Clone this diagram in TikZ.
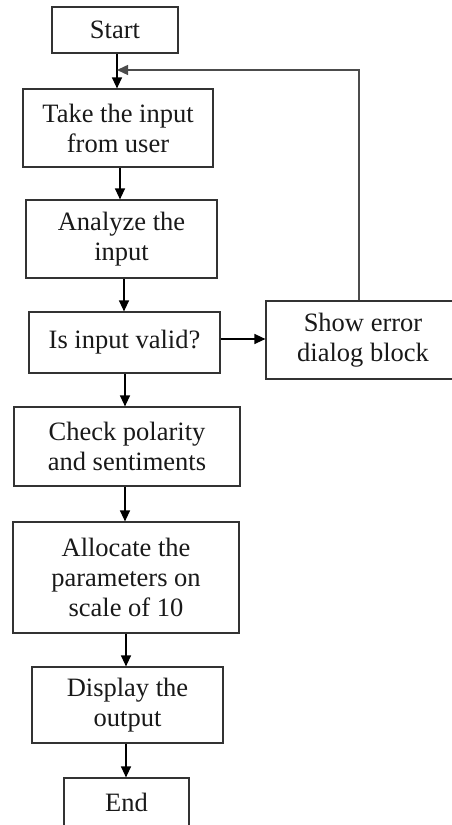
\documentclass[tikz,border=0pt]{standalone}
\usepackage{fontspec}
\setmainfont{Liberation Serif}
\usetikzlibrary{arrows.meta}
\tikzset{
  x=1pt, y=1pt,
  box/.style={draw=black!80, line width=1.2pt, align=center, inner sep=0pt,
    font=\fontsize{26.5}{30}\selectfont, text=black!90},
  arr/.style={line width=1.4pt, -{Triangle[length=11pt,width=10pt]}},
  fb/.style={draw=black!70, line width=1.4pt, -{Triangle[length=11pt,width=10pt]}}
}
\begin{document}
\begin{tikzpicture}
\useasboundingbox (0,0) rectangle (452,825);
\clip (0,0) rectangle (452,825);
% y_tikz = 825 - y_px
\node[box, minimum width=126, minimum height=46] (start) at (115,795) {Start};
\node[box, minimum width=190, minimum height=78] (take) at (118,697) {Take the input\\from user};
\node[box, minimum width=191, minimum height=78] (analyze) at (121.5,586) {Analyze the\\input};
\node[box, minimum width=191, minimum height=61] (valid) at (124.5,482.5) {Is input valid?};
\node[box, minimum width=194, minimum height=78] (show) at (363,485) {Show error\\dialog block};
\node[box, minimum width=226, minimum height=79] (check) at (127,378.5) {Check polarity\\and sentiments};
\node[box, minimum width=226, minimum height=111] (alloc) at (126,247.5) {Allocate the\\parameters on\\scale of 10};
\node[box, minimum width=191, minimum height=76] (disp) at (127.5,120) {Display the\\output};
\node[box, minimum width=125, minimum height=48] (end) at (126.5,23) {End};
\coordinate (j) at (117,755);
\draw[arr] (start.south -| j) -- (take.north -| j);
\draw[arr] (take.south -| 120,0) -- (analyze.north -| 120,0);
\draw[arr] (analyze.south -| 124,0) -- (valid.north -| 124,0);
\draw[arr] (valid.east |- 0,486) -- (show.west |- 0,486);
\draw[arr] (valid.south -| 125,0) -- (check.north -| 125,0);
\draw[arr] (check.south -| 125,0) -- (alloc.north -| 125,0);
\draw[arr] (alloc.south -| 126,0) -- (disp.north -| 126,0);
\draw[arr] (disp.south -| 126,0) -- (end.north -| 126,0);
\draw[fb] (show.north -| 359,0) |- (j);
\end{tikzpicture}
\end{document}
